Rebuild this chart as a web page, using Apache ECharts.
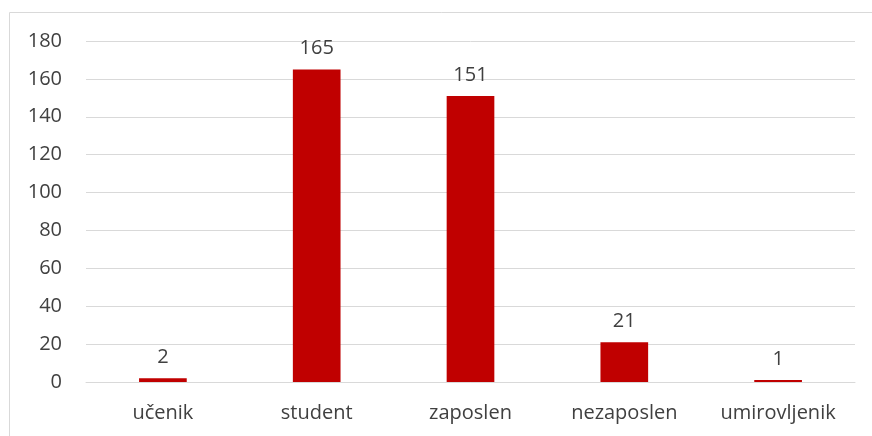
<!DOCTYPE html>
<html>
<head>
<meta charset="utf-8">
<script src="https://cdn.jsdelivr.net/npm/echarts@6/dist/echarts.min.js"></script>
<style>
  html, body { margin: 0; padding: 0; background: #fff; }
  #chart { width: 872px; height: 436px; }
</style>
</head>
<body>
<div id="chart"></div>
<script>
var categories = ['učenik', 'student', 'zaposlen', 'nezaposlen', 'umirovljenik'];
var values = [2, 165, 151, 21, 1];
var yTicks = [0, 20, 40, 60, 80, 100, 120, 140, 160, 180];

var chart = echarts.init(document.getElementById('chart'));
var option = {
  animation: false,
  graphic: [{
    type: 'rect',
    shape: { x: 9.5, y: 12.5, width: 900, height: 500 },
    style: { fill: 'none', stroke: '#d9d9d9', lineWidth: 1 },
    silent: true
  }],
  grid: { left: 86, right: 17, top: 41, bottom: 54 },
  xAxis: {
    type: 'category',
    data: categories,
    axisLine: { show: true, lineStyle: { color: '#d9d9d9', width: 1 } },
    axisTick: { show: false },
    axisLabel: { color: '#404040', fontSize: 20, fontFamily: 'Open Sans', margin: 21 }
  },
  yAxis: {
    type: 'value',
    min: yTicks[0],
    max: yTicks[yTicks.length - 1],
    interval: 20,
    axisLine: { show: false },
    axisTick: { show: false },
    axisLabel: { color: '#404040', fontSize: 20, fontFamily: 'Open Sans', margin: 24 },
    splitLine: { lineStyle: { color: '#d9d9d9', width: 1 } }
  },
  series: [{
    type: 'bar',
    data: values,
    barWidth: '31%',
    itemStyle: { color: '#c00000' },
    label: {
      show: true,
      position: 'top',
      distance: 11,
      color: '#404040',
      fontSize: 20,
      fontFamily: 'Open Sans'
    }
  }]
};
chart.setOption(option);
</script>
</body>
</html>
